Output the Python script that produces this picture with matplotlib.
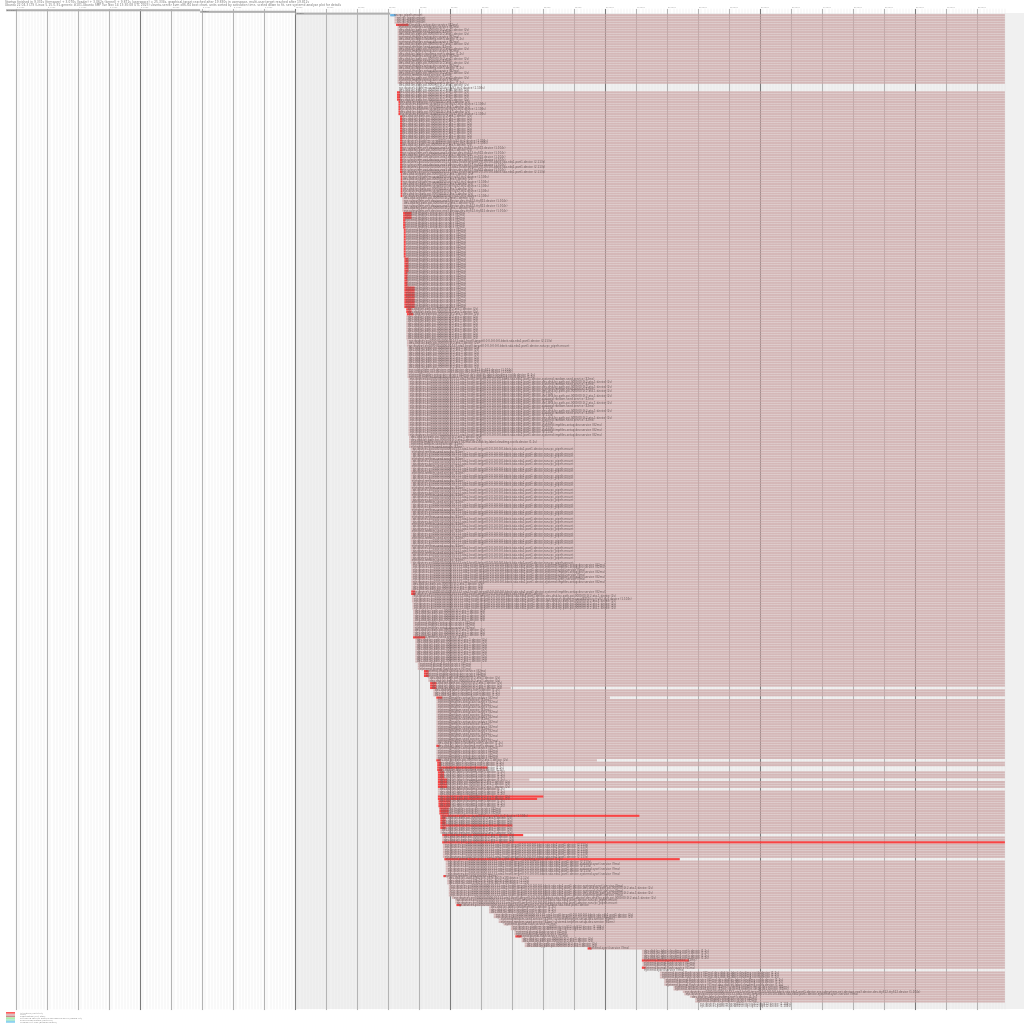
import matplotlib
matplotlib.use('Agg')
import matplotlib.pyplot as plt

# === Label text, named by rough length ===
T20 = "run-rpc_pipefs.mount"
T25 = "systemd-sysctl.service (9ms)"
T30 = "systemd-random-seed.service (42ms)"
T35 = "systemd-journal-flush.service (61ms)"
T40 = "systemd-tmpfiles-setup-dev.service (82ms)"
T45 = "dev-disk-by-label-cloudimg-rootfs.device (1.2s)"
T50 = "dev-disk-by-path-pci-0000:00:1f.2-ata-1.device (2s)"
T55 = "dev-disk-by-uuid-4f8a21c6-7d3e-4b19-a1f0.device (2.12s)"
T60 = "sys-devices-platform-serial8250-tty-ttyS2-tty2.device (1.104s)"
T65 = "sys-devices-platform-serial8250-tty-ttyS12-ttyS12.device (1.104s)"
T70 = "sys-subsystem-net-devices-ens3.device-dev-ttyS12-ttyS12.device (1.104s)"
T75 = T30 + "-" + T40
T80 = T35 + "-" + T45
T85 = T40 + "-" + T45
PCI = "sys-devices-pci0000:00-0000:00:1f.2-ata1-host0-target0:0:0-0:0:0:0-block-sda-sda1-part1.device"
T90 = PCI
T95 = PCI + " (2s)"
T100 = PCI + " (2.113s)"
T110 = PCI + "-" + T20
T115 = PCI + "-" + T25
T120 = PCI + "-" + T30
T130 = PCI + "-" + T40
T140 = PCI + "-" + T50
T150 = PCI + "-" + T60
T160 = PCI + "-" + T70

END = 22.89

# === Unit rows, in blocks of similar rows, seconds since kernel start ===
group_counts = [1, 3, 1, 24, 3, 4, 6, 10, 2, 6, 6, 10, 6, 3, 4, 12, 6, 6, 9, 2,
                1, 10, 1, 1, 1, 9, 2, 2, 6, 12, 6, 2, 1, 2, 48, 2, 3, 3, 3, 1,
                1, 3, 3, 5, 3, 3, 1, 10, 3, 3, 2, 2, 1, 3, 1, 18, 1, 1, 5, 1,
                2, 1, 1, 3, 1, 3, 1, 2, 1, 1, 3, 3, 1, 3, 1, 1, 2, 1, 2, 1,
                6, 1, 6, 1, 3, 5, 1, 2, 1, 3, 2, 2, 1, 2, 2, 1, 2, 2, 1, 4,
                1, 2, 1, 1, 3, 3, 2, 1, 1, 1, 2, 2]
group_starts = [3.10, 3.20, 3.25, 3.30, 3.30, 3.28, 3.33, 3.38, 3.38, 3.38, 3.38, 3.40, 3.45, 3.48, 3.48, 3.50, 3.52, 3.52, 3.52, 3.58,
                3.60, 3.58, 3.60, 3.60, 3.60, 3.62, 3.62, 3.62, 3.65, 3.65, 3.65, 3.67, 3.67, 3.67, 3.72, 3.74, 3.74, 3.74, 3.74, 3.74,
                3.74, 3.76, 3.78, 3.80, 3.80, 3.80, 3.80, 3.87, 3.95, 4.15, 4.29, 4.35, 4.35, 4.45, 4.55, 4.55, 4.55, 4.55, 4.55, 4.55,
                4.58, 4.58, 4.58, 4.60, 4.60, 4.60, 4.60, 4.60, 4.60, 4.60, 4.62, 4.65, 4.68, 4.68, 4.68, 4.68, 4.68, 4.74, 4.74, 4.74,
                4.76, 4.81, 4.85, 4.78, 4.90, 4.95, 5.05, 5.16, 5.20, 6.25, 6.40, 6.56, 6.72, 6.95, 7.07, 7.10, 7.30, 7.40, 9.43, 11.18,
                11.18, 11.20, 11.18, 11.18, 11.76, 11.90, 12.20, 12.50, 12.55, 12.73, 12.90, 13.00]
group_reds = [0, 0, 3.65, 0, 0, 3.38, 3.38, 3.45, 3.45, 3.45, 3.45, 3.45, 0, 3.75, 3.55, 3.56, 3.65, 3.62, 3.85, 3.75,
              3.80, 0, 0, 0, 0, 0, 0, 0, 0, 0, 0, 0, 0, 0, 0, 0, 0, 0, 0, 3.87,
              3.87, 0, 0, 0, 0, 0, 4.19, 0, 0, 4.30, 0, 4.55, 4.55, 0, 4.74, 0, 0, 4.65, 0, 4.68,
              4.70, 6.20, 4.75, 4.80, 4.90, 4.90, 0, 0, 8.00, 7.80, 5.00, 4.95, 11.10, 4.85, 7.00, 4.85, 0, 7.35, 0, END,
              0, 12.40, 0, 4.85, 0, 0, 0, 0, 5.35, 0, 0, 0, 0, 0, 0, 7.30, 0, 0, 9.55, 0,
              12.70, 0, 11.30, 0, 0, 0, 0, 0, 0, 0, 0, 0]
group_ends = [END, END, END, END, 3.30, END, END, END, END, END, END, END, END, END, END, END, END, END, END, END,
              END, END, END, END, END, END, END, END, END, END, END, END, END, END, END, END, END, END, END, END,
              END, END, END, END, END, END, END, END, END, END, END, END, 6.95, END, 10.15, END, END, END, END, 9.73,
              END, 6.20, 6.20, END, 7.55, END, 6.60, END, END, END, END, END, END, END, END, END, END, 7.35, END, END,
              END, 12.40, END, END, END, END, END, END, END, END, END, END, END, END, END, END, END, END, END, END,
              END, END, END, 11.18, END, END, END, END, END, END, END, 13.00]
group_labels = [[T20], [T20], [T40], [T40, T50, T30, T50, T40, T45], [T50, T60], [T50], [T50, T60], [T50], [T60], [T50, T70],
                [T70, T100], [T50, T60], [T50, T70], [T40], [T40], [T40], [T40], [T40], [T40], [T50],
                [T50], [T50], [T100], [T50], [T110], [T50], [T70], [T85], [T120, T140], [T100, T140, T120],
                [T100, T130], [T50], [T85], [T30], [T110, T30, T110], [T130], [T115, T130], [T130, T115], [T50], [T130],
                [T90], [T140, T150], [T140], [T50], [T40], [T50], [T30], [T50], [T35], [T40],
                [T50], [T50], [T50], [T45], [T40], [T30, T40], [T45], [T45], [T40], [T50],
                [T45], [T45], [T45], [T45], [T45], [T50], [T45], [T45], [T50], [T50],
                [T45], [T40], [T60], [T50], [T50], [T50], [T50], [T50], [T50], [T50],
                [T100], [T80], [T100, T115], [T30], [T55], [T115, T140], [T140], [T110], [T90], [T45],
                [T95], [T75], [T35], [T65], [T35], [T35], [T50], [T50], [T25], [T45],
                [T30], [T35], [T35], [T25], [T80], [T80], [T75], [T160], [T115], [T45],
                [T40], [T65]]

# === Boot phases and axis ===
phase_names = ["firmware", "loader", "kernel"]
phase_starts = [-9.33, -3.07, 0.0]
phase_ends = [-3.07, 0.0, 3.06]
unit_load = [3.06, 3.24]
major_ticks = list(range(-9, 23))
tick_labels = [f"{t}.000s" for t in major_ticks]

legend_names = ["Activating (unit start)", "Active", "Deactivating (unit stop)",
                "Setting up security module and loading policy (before init)", "Running generators (unit files)",
                "Loading unit files (daemon reload)"]
legend_colors = ["#ff5a5a", "#dcbebe", "#cd8c8c", "#aaf0aa", "#aae6d2", "#8cd2f0"]

header_lines = ["Startup finished in 9.331s (firmware) + 3.070s (loader) + 3.062s (kernel) + 9.871s (userspace) = 25.334s, graphical.target reached after 19.830s in userspace, multi-user.target reached after 19.812s",
                "Ubuntu 22.04.3 LTS (Linux 5.15.0-91-generic #101-Ubuntu SMP Tue Nov 14 13:30:08 UTC 2023) ubuntu-server kvm x86-64 boot chart, units sorted by activation time, scaled down to fit, see systemd-analyze plot for details"]

# === Layout ===
n_rows = sum(group_counts)
top_px, bottom_px = 14.0, 1007.5
pitch = (bottom_px - top_px) / n_rows
px_per_s, zero_px = 31.0, 295.3

fig = plt.figure(figsize=(10.24, 10.24), dpi=100)
ax = fig.add_axes([0, 0, 1, 1])
ax.set_xlim(-zero_px / px_per_s, (1024 - zero_px) / px_per_s)
ax.set_ylim((1024 - top_px) / pitch, -top_px / pitch)
ax.axis('off')

grid_top = (9 - top_px) / pitch
grid_bottom = (1009 - top_px) / pitch
ax.fill_between([0, (1024 - zero_px) / px_per_s], (13 - top_px) / pitch, grid_bottom,
                color='#f0f0f0', lw=0, zorder=0)

# Grid lines
for t in major_ticks:
    for k in range(1, 10):
        ax.plot([t + k / 10, t + k / 10], [grid_top, grid_bottom], color='#e6e6e6', lw=0.3, zorder=1)
    ax.plot([t, t], [grid_top, grid_bottom], color='#7a7a7a' if t % 5 == 0 else '#b4b4b4', lw=0.8, zorder=1)
for t, label in zip(major_ticks, tick_labels):
    ax.text(t + 0.03, (7.6 - top_px) / pitch, label, fontsize=1.6, color='#999999', ha='left', va='center')

# Boot phases
phase_rows = [-1.55, -0.9, -0.15]
for name, a, b, row in zip(phase_names, phase_starts, phase_ends, phase_rows):
    ax.barh(row, b - a, left=a, height=0.85, color='#b0b0b0', lw=0, zorder=2, snap=False)
    ax.text(a + 0.04, row, name, fontsize=1.7, color='#666666', va='center', zorder=5)
ax.barh(0.5, unit_load[1] - unit_load[0], left=unit_load[0], height=0.9, color='#6ab4e6', lw=0, zorder=3, snap=False)

# Unit rows
row = 0
for count, start, red, end, labels in zip(group_counts, group_starts, group_reds, group_ends, group_labels):
    for k in range(count):
        y = row + 0.5
        if end > start:
            ax.barh(y, end - start, left=start, height=0.88, color='#cca6a6', alpha=0.75, lw=0, zorder=2, snap=False)
        if red:
            ax.barh(y, red - start, left=start, height=0.88, color='#ff3030', alpha=0.85, lw=0, zorder=3, snap=False)
        ax.text(start + 0.06, y, labels[k % len(labels)], fontsize=2.0, color='#6a5a5a',
                va='center', ha='left', zorder=5)
        row += 1

# Header text
for i, line in enumerate(header_lines):
    ax.text(5 / px_per_s - zero_px / px_per_s, (2.0 + 2.7 * i - top_px) / pitch, line, fontsize=2.2,
            color='#777777', va='center')

# Legend
swatch_x = (6 - zero_px) / px_per_s
swatch_w = 9 / px_per_s
for i, (name, color) in enumerate(zip(legend_names, legend_colors)):
    y = (1012.9 + 1.8 * i - top_px) / pitch
    ax.barh(y, swatch_w, left=swatch_x, height=1.8 / pitch, color=color, lw=0, snap=False)
    ax.text((20 - zero_px) / px_per_s, y, name, fontsize=1.5, color='#777777', va='center')

plt.savefig('out.png', dpi=100)
